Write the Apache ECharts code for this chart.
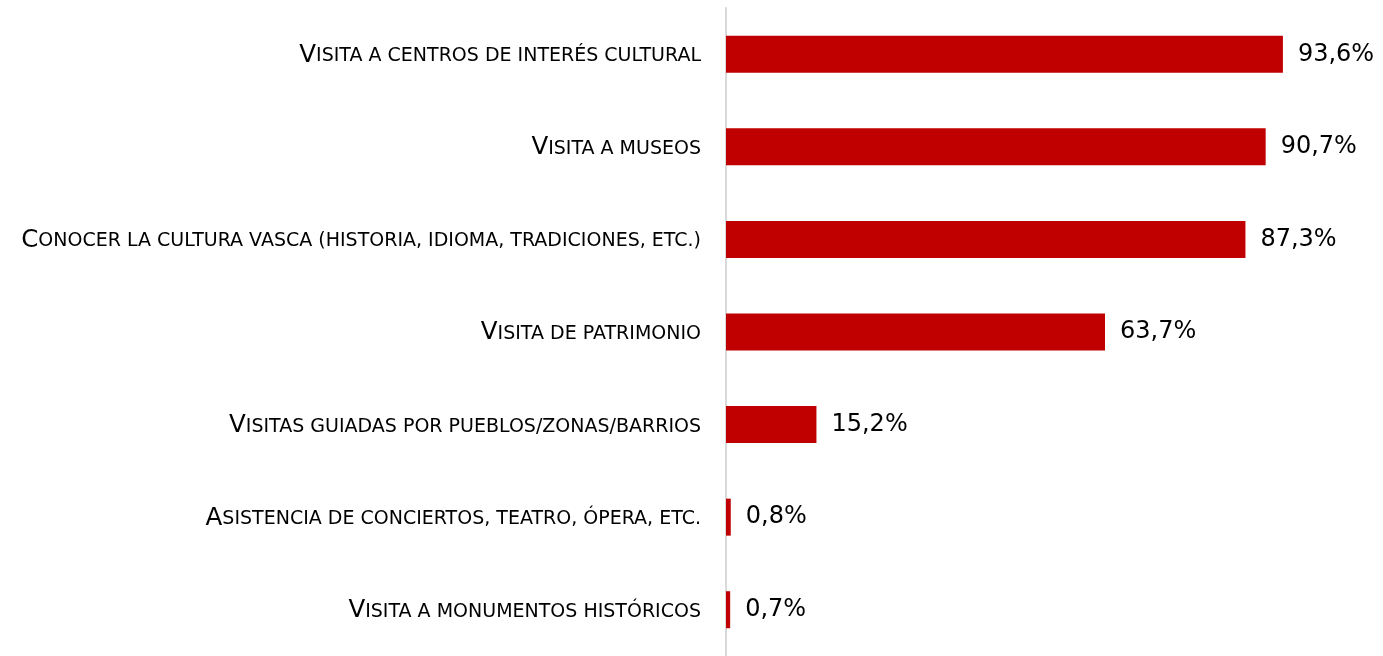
<!DOCTYPE html>
<html>
<head>
<meta charset="utf-8">
<script src="https://cdn.jsdelivr.net/npm/echarts@6/dist/echarts.min.js"></script>
<style>
html, body { margin: 0; padding: 0; background: #fff; }
#chart { width: 1383px; height: 656px; }
</style>
</head>
<body>
<div id="chart"></div>
<script>
// categorias (de arriba a abajo) y porcentajes
var categorias = [
	'Visita a centros de interés cultural',
	'Visita a museos',
	'Conocer la cultura vasca (historia, idioma, tradiciones, etc.)',
	'Visita de patrimonio',
	'Visitas guiadas por pueblos/zonas/barrios',
	'Asistencia de conciertos, teatro, ópera, etc.',
	'Visita a monumentos históricos'
];
var valores = [93.6, 90.7, 87.3, 63.7, 15.2, 0.8, 0.7];

var chart = echarts.init(document.getElementById('chart'));

var fuente = '"DejaVu Sans", sans-serif';

// versalitas: primera letra grande, resto en mayúsculas pequeñas
function versalitas(txt) {
	return '{b|' + txt.charAt(0).toUpperCase() + '}{s|' + txt.slice(1).toUpperCase() + '}';
}

var option = {
	animation: false,
	grid: {
		left: 726,
		top: 8,
		width: 595,
		height: 654,
		containLabel: false
	},
	xAxis: {
		type: 'value',
		min: 0,
		max: 100,
		show: false
	},
	yAxis: {
		type: 'category',
		inverse: true,
		data: categorias,
		axisTick: { show: false },
		axisLine: {
			lineStyle: { color: '#d9d9d9', width: 2 }
		},
		axisLabel: {
			margin: 25,
			formatter: versalitas,
			rich: {
				b: { fontFamily: fuente, fontSize: 24.5, color: '#000', padding: [2, 0, 0, 0] },
				s: { fontFamily: fuente, fontSize: 19, color: '#000', padding: [4, 0, 0, 0] }
			}
		}
	},
	series: [{
		type: 'bar',
		data: valores,
		barWidth: 37,
		itemStyle: { color: '#c00000' },
		label: {
			show: true,
			position: 'right',
			distance: 15,
			fontFamily: fuente,
			fontSize: 24,
			color: '#000',
			formatter: function (p) {
				return p.value.toFixed(1).replace('.', ',') + '%';
			}
		}
	}]
};
chart.setOption(option);
</script>
</body>
</html>
